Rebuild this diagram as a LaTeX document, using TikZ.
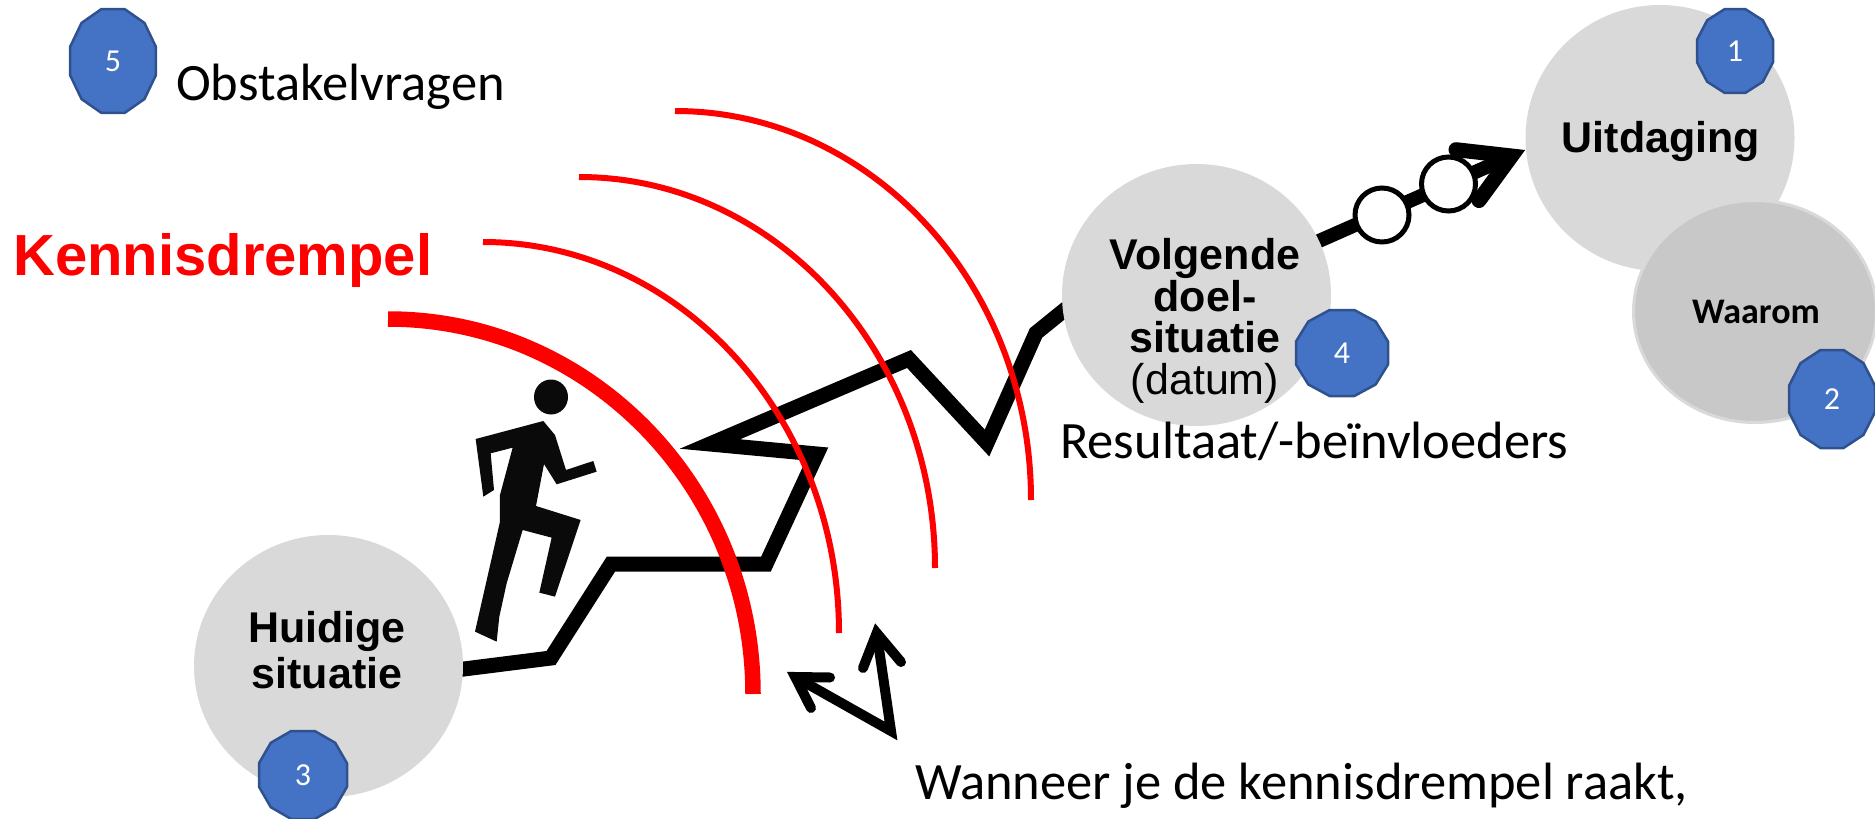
\documentclass[tikz,border=0pt]{standalone}
\usepackage{fontspec}
\setmainfont{Carlito}
\newfontfamily\arialf{Liberation Sans}
\usetikzlibrary{shapes.geometric,backgrounds}
\definecolor{blobgray}{HTML}{D9D9D9}
\definecolor{darkblob}{HTML}{C8C8C8}
\definecolor{badgefill}{HTML}{4472C4}
\definecolor{badgeline}{HTML}{2F528F}
\newcommand{\badge}[6]{%
  \draw[badgeshape] plot[samples at={15,45,...,345}] ({#2+#4/cos(15)*cos(\x)},{#3+#5/cos(15)*sin(\x)}) -- cycle;
  \node[badgetext] (#1) at (#2,#3) {#6};}
\tikzset{
  blob/.style={ellipse,fill=blobgray,inner sep=0pt,outer sep=0pt},
  badgeshape/.style={fill=badgefill,draw=badgeline,line width=2.5pt,line join=round},
  badgetext/.style={text=white,font=\fontsize{32}{34}\selectfont,inner sep=0pt},
  boldtext/.style={font=\arialf\bfseries\fontsize{43}{46}\selectfont,align=center,inner sep=0pt,text=black},
  bodytext/.style={font=\fontsize{52.5}{60}\selectfont,inner sep=0pt,anchor=base west,text=black},
  thinarc/.style={draw=red,line width=6pt},
  thickarc/.style={draw=red,line width=15.5pt},
  route/.style={draw=black,line width=15pt,miter limit=20},
  head/.style={draw=black,line width=15pt,line cap=round,line join=miter,miter limit=20},
  smallarrow/.style={draw=black,line width=10pt,line cap=round,line join=miter,miter limit=20},
  smallshaft/.style={draw=black,line width=10pt,line join=miter,miter limit=20},
  ring/.style={circle,draw=black,fill=white,line width=5pt,inner sep=0pt,minimum size=54pt}
}
\begin{document}
\begin{tikzpicture}[x=1pt,y=-1pt]
\useasboundingbox (0,0) rectangle (1875,819);

% grey situation blobs
\node[blob,minimum width=269pt,minimum height=262pt] (huidige) at (328.5,666) {};
\node[blob,minimum width=269pt,minimum height=262pt] (volgende) at (1196.5,295) {};
\node[blob,minimum width=269pt,minimum height=266pt] (uitdaging) at (1660,138) {};
\node[blob,fill=darkblob,draw=blobgray,line width=3pt,minimum width=243pt,minimum height=222pt] (waarom) at (1755,311.5) {};

% route and arrow, under the blobs
\coordinate (h0) at (440,672);
\coordinate (r1) at (551,658);
\coordinate (r2) at (611,564);
\coordinate (r3) at (766,564);
\coordinate (r4) at (817,454);
\coordinate (r5) at (710,444);
\coordinate (r6) at (909,359);
\coordinate (r7) at (987,443);
\coordinate (r8) at (1036,333);
\coordinate (r9) at (1120,265);
\coordinate (tip) at (1511.5,156);
\coordinate (barbA) at (1456,149.7);
\coordinate (barbB) at (1479,200.5);
\begin{pgfonlayer}{background}
\draw[route] (huidige.center) -- (h0) -- (r1) -- (r2) -- (r3) -- (r4) -- (r5) -- (r6) -- (r7) -- (r8) -- (r9);
\draw[route,line width=14pt] (volgende.center) -- (tip);
\draw[head] (barbA) -- (tip) -- (barbB);
\end{pgfonlayer}

% stations on the last leg
\node[ring] (ringA) at (1382,215) {};
\node[ring] (ringB) at (1448.5,184) {};

% knowledge thresholds
\draw[thickarc] (388,319) arc[start angle=-90,end angle=0,x radius=365,y radius=375];
\draw[thinarc] (483,242) arc[start angle=-90,end angle=0,x radius=356,y radius=391];
\draw[thinarc] (579,177) arc[start angle=-90,end angle=0,x radius=356,y radius=391];
\draw[thinarc] (675,111) arc[start angle=-90,end angle=0,x radius=356,y radius=389];

% runner
\fill[black!96] (551,397) ellipse[x radius=17,y radius=17.5];
\begin{scope}[shift={(440,360)},x=0.3333pt,y=-0.3333pt]
\fill[black!96] (107,237) -- (310,183) -- (345,225) -- (378,330) -- (460,303) -- (470,335) -- (350,373) -- (312,312) -- (288,438) -- (422,480) -- (345,710) -- (298,698) -- (335,533) -- (248,510) -- (200,670) -- (178,770) -- (170,845) -- (105,815) -- (180,485) -- (180,405) -- (218,263) -- (152,280) -- (162,390) -- (130,410) -- cycle;
\end{scope}

% small double arrow
\coordinate (va) at (891,731);
\coordinate (ta) at (795.2,677);
\coordinate (tb) at (876.7,633);
\coordinate (ta1) at (830,677.5);
\coordinate (ta2) at (811,708);
\coordinate (tb1) at (863,668);
\coordinate (tb2) at (901,662);
\draw[smallshaft] (ta) -- (va) -- (tb);
\draw[smallarrow] (ta1) -- (ta) -- (ta2);
\draw[smallarrow] (tb1) -- (tb) -- (tb2);

% labels
\node[boldtext] (lblH) at (327,650) {Huidige\\situatie};
\node[boldtext] (lblU) at (1661,141) {Uitdaging};
\node[boldtext,font=\arialf\bfseries\fontsize{43}{41.7}\selectfont] (lblV) at (1205,321) {Volgende\\doel-\\situatie\\{\mdseries (datum)}};
\node[boldtext,font=\bfseries\fontsize{36}{38}\selectfont] (lblW) at (1756,312) {Waarom};
\node[font=\arialf\bfseries\fontsize{58}{60}\selectfont,text=red,inner sep=0pt,anchor=base west] (lblK) at (13,275) {Kennisdrempel};
\node[bodytext] (lblO) at (176,100) {Obstakelvragen};
\node[bodytext] (lblR) at (1060,458) {Resultaat/-beïnvloeders};
\node[bodytext] (lblWn) at (915,799) {Wanneer je de kennisdrempel raakt,};

% badges
\badge{b1}{1735}{51}{38}{42}{1}
\badge{b2}{1832}{399}{43}{49}{2}
\badge{b3}{303}{775}{44}{44}{3}
\badge{b4}{1342}{353}{46}{43}{4}
\badge{b5}{113}{61}{43}{52}{5}
\end{tikzpicture}
\end{document}
